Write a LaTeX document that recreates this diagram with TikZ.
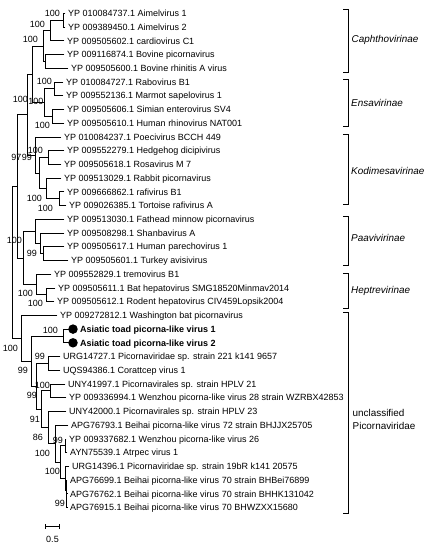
\documentclass[tikz,border=0pt]{standalone}
\usepackage{fontspec}
\setmainfont{Liberation Sans}
\begin{document}
\begin{tikzpicture}[x=1pt,y=-1pt]
\tikzset{
 br/.style={line width=0.8pt, line cap=rect},
 lbl/.style={anchor=base west, inner sep=0pt, font=\fontsize{9}{11}\selectfont},
 bs/.style={anchor=base east, inner sep=0pt, font=\fontsize{9}{10}\selectfont},
 clade/.style={anchor=base west, inner sep=0pt, font=\fontsize{9.9}{11}\selectfont\itshape},
 plain/.style={anchor=base west, inner sep=0pt, font=\fontsize{9.9}{11}\selectfont},
 brk/.style={line width=0.75pt},
 dot/.style={circle, fill=black, minimum size=9.5pt, inner sep=0pt}
}
\newcommand\Lf[4]{\coordinate (#1) at (#2,#3); \node[lbl] (#1t) at ({#2+3},{#3+3.2}) {#4};}
\newcommand\In[3]{\coordinate (#1) at (#2,#3);}
\newcommand\Ed[3]{\draw[br] (#1) |- (#2); \draw[br] (#1) |- (#3);}
\newcommand\Bs[4]{\node[bs] (#1) at ({#2},{#3+3.2}) {#4};}
\newcommand\Brk[3]{\coordinate (#1a) at (343,#2); \coordinate (#1b) at (343,#3);
  \draw[brk] (#1a) -- ++(5,0) |- (#1b);}
\useasboundingbox (0,0) rectangle (430,550);
% leaves
\Lf{L1}{65}{13.3}{YP 010084737.1 Aimelvirus 1}
\Lf{L2}{65}{27.0}{YP 009389450.1 Aimelvirus 2}
\Lf{L3}{64}{40.8}{YP 009505602.1 cardiovirus C1}
\Lf{L4}{64}{54.5}{YP 009116874.1 Bovine picornavirus}
\Lf{L5}{68}{68.2}{YP 009505600.1 Bovine rhinitis A virus}
\Lf{L6}{63}{82.0}{YP 010084727.1 Rabovirus B1}
\Lf{L7}{63}{95.7}{YP 009552136.1 Marmot sapelovirus 1}
\Lf{L8}{64}{109.4}{YP 009505606.1 Simian enterovirus SV4}
\Lf{L9}{64}{123.1}{YP 009505610.1 Human rhinovirus NAT001}
\Lf{L10}{61}{136.9}{YP 010084237.1 Poecivirus BCCH 449}
\Lf{L11}{64}{150.6}{YP 009552279.1 Hedgehog dicipivirus}
\Lf{L12}{61}{164.3}{YP 009505618.1 Rosavirus M 7}
\Lf{L13}{61}{178.1}{YP 009513029.1 Rabbit picornavirus}
\Lf{L14}{64}{191.8}{YP 009666862.1 rafivirus B1}
\Lf{L15}{66}{205.5}{YP 009026385.1 Tortoise rafivirus A}
\Lf{L16}{64}{219.3}{YP 009513030.1 Fathead minnow picornavirus}
\Lf{L17}{64}{233.0}{YP 009508298.1 Shanbavirus A}
\Lf{L18}{64}{246.7}{YP 009505617.1 Human parechovirus 1}
\Lf{L19}{68}{260.4}{YP 009505601.1 Turkey avisivirus}
\Lf{L20}{51}{274.2}{YP 009552829.1 tremovirus B1}
\Lf{L21}{55}{287.9}{YP 009505611.1 Bat hepatovirus SMG18520Minmav2014}
\Lf{L22}{54}{301.6}{YP 009505612.1 Rodent hepatovirus CIV459Lopsik2004}
\Lf{L23}{57}{315.4}{YP 009272812.1 Washington bat picornavirus}
\coordinate (L24) at (68.5,329.1); \node[dot] (L24d) at (73,329.1) {};
\node[lbl] (L24t) at (80,332.3) {\bfseries Asiatic toad picorna-like virus 1};
\coordinate (L25) at (68.5,342.8); \node[dot] (L25d) at (73,342.8) {};
\node[lbl] (L25t) at (80,346.0) {\bfseries Asiatic toad picorna-like virus 2};
\Lf{L26}{60}{356.6}{URG14727.1 Picornaviridae sp. strain 221 k141 9657}
\Lf{L27}{60}{370.3}{UQS94386.1 Corattcep virus 1}
\Lf{L28}{65}{384.0}{UNY41997.1 Picornavirales sp. strain HPLV 21}
\Lf{L29}{66}{397.7}{YP 009336994.1 Wenzhou picorna-like virus 28 strain WZRBX42853}
\Lf{L30}{66}{411.5}{UNY42000.1 Picornavirales sp. strain HPLV 23}
\Lf{L31}{68}{425.2}{APG76793.1 Beihai picorna-like virus 72 strain BHJJX25705}
\Lf{L32}{66}{438.9}{YP 009337682.1 Wenzhou picorna-like virus 26}
\Lf{L33}{67}{452.7}{AYN75539.1 Atrpec virus 1}
\Lf{L34}{69}{466.4}{URG14396.1 Picornaviridae sp. strain 19bR k141 20575}
\Lf{L35}{67}{480.1}{APG76699.1 Beihai picorna-like virus 70 strain BHBei76899}
\Lf{L36}{67}{493.8}{APG76762.1 Beihai picorna-like virus 70 strain BHHK131042}
\Lf{L37}{67}{507.6}{APG76915.1 Beihai picorna-like virus 70 BHWZXX15680}
% internal nodes
\In{naim}{63}{20.15} \In{nac}{50}{30.5} \In{nbov}{45}{61.35} \In{C1}{43}{45.9}
\In{nrm}{54}{88.85} \In{nsr}{52}{116.25} \In{E}{44}{102.55} \In{NCE}{32}{74.2}
\In{nhr}{48}{157.45} \In{nrafi}{59}{198.65} \In{nrr}{46}{188.4} \In{nhrrr}{39.3}{172.9} \In{K}{35}{154.9}
\In{npt}{43}{253.55} \In{nspt}{40}{243.3} \In{Pa}{35}{231.3}
\In{nhep}{46.7}{294.75} \In{H}{36.7}{284.5}
\In{NCEK}{27}{114.55} \In{NPH}{23}{257.9} \In{Ncl}{17}{186.2}
\In{ntoad}{63}{335.95} \In{nuu}{48}{363.45} \In{nun}{50}{390.85}
\In{Ca}{66.5}{500.7} \In{Cb}{66}{490.4} \In{Cc}{65.5}{478.4}
\In{B4}{65}{445.8} \In{B5}{60}{462.1} \In{B6}{55}{443.65} \In{B7}{48}{427.6}
\In{B8}{41}{409.2} \In{B9}{36}{386.3} \In{B10}{31.7}{361.1} \In{B11}{21.7}{338.3}
\In{R}{12.7}{262.3}
% edges
\Ed{naim}{L1}{L2} \Ed{nac}{naim}{L3} \Ed{nbov}{L4}{L5} \Ed{C1}{nac}{nbov}
\Ed{nrm}{L6}{L7} \Ed{nsr}{L8}{L9} \Ed{E}{nrm}{nsr} \Ed{NCE}{C1}{E}
\Ed{nhr}{L11}{L12} \Ed{nrafi}{L14}{L15} \Ed{nrr}{L13}{nrafi} \Ed{nhrrr}{nhr}{nrr} \Ed{K}{L10}{nhrrr}
\Ed{npt}{L18}{L19} \Ed{nspt}{L17}{npt} \Ed{Pa}{L16}{nspt}
\Ed{nhep}{L21}{L22} \Ed{H}{L20}{nhep}
\Ed{NCEK}{NCE}{K} \Ed{NPH}{Pa}{H} \Ed{Ncl}{NCEK}{NPH}
\Ed{ntoad}{L24}{L25} \Ed{nuu}{L26}{L27} \Ed{nun}{L28}{L29}
\Ed{Ca}{L36}{L37} \Ed{Cb}{L35}{Ca} \Ed{Cc}{L34}{Cb}
\Ed{B4}{L32}{L33} \Ed{B5}{B4}{Cc} \Ed{B6}{L31}{B5} \Ed{B7}{L30}{B6}
\Ed{B8}{nun}{B7} \Ed{B9}{nuu}{B8} \Ed{B10}{ntoad}{B9} \Ed{B11}{L23}{B10}
\Ed{R}{Ncl}{B11}
% bootstrap values
\Bs{b1}{60}{13.3}{100} \Bs{b2}{45}{24}{100} \Bs{b3}{38}{39}{100} \Bs{b4}{52}{81}{100}
\Bs{b5}{28}{99}{100} \Bs{b6}{43.5}{101.5}{100} \Bs{b7}{50}{125}{100}
\Bs{b8}{43}{150.7}{100} \Bs{b9}{21.5}{157}{97} \Bs{b10}{32}{157}{99}
\Bs{b11}{42}{198}{100} \Bs{b12}{53}{208}{100} \Bs{b13}{22}{240}{100} \Bs{b14}{37}{253.3}{99}
\Bs{b15}{33}{293}{100} \Bs{b16}{43}{303}{100}
\Bs{b17}{58}{330}{100} \Bs{b18}{18}{348}{100} \Bs{b19}{45}{356.7}{99} \Bs{b20}{28}{370}{99}
\Bs{b21}{50}{385}{100} \Bs{b22}{37}{395}{99} \Bs{b23}{40}{419}{91} \Bs{b24}{43}{437.7}{86}
\Bs{b25}{63}{440}{99} \Bs{b26}{50}{453.3}{100} \Bs{b27}{60}{471.7}{100} \Bs{b28}{65}{503.3}{99}
% scale bar
\coordinate (s1) at (45.7,526.7); \coordinate (s2) at (59.3,526.7);
\draw[line width=1.2pt] (s1) -- (s2);
\draw[line width=0.8pt] ([yshift=2.5pt]s1) -- ([yshift=-2.5pt]s1);
\draw[line width=0.8pt] ([yshift=2.5pt]s2) -- ([yshift=-2.5pt]s2);
\node[bs, anchor=base] (sl) at (52.5,542) {0.5};
% clade brackets
\Brk{k1}{9}{72} \node[clade] (c1) at (351.5,42.8) {Caphthovirinae};
\Brk{k2}{79}{126} \node[clade] (c2) at (351,106.6) {Ensavirinae};
\Brk{k3}{134}{204} \node[clade] (c3) at (351,174.6) {Kodimesavirinae};
\Brk{k4}{216}{265} \node[clade] (c4) at (351,241.6) {Paavivirinae};
\Brk{k5}{273}{308} \node[clade] (c5) at (351,293.6) {Heptrevirinae};
\Brk{k6}{312}{513} \node[plain] (c6) at (352.5,416.6) {unclassified};
\node[plain] (c7) at (352.5,429.8) {Picornaviridae};
\end{tikzpicture}
\end{document}
